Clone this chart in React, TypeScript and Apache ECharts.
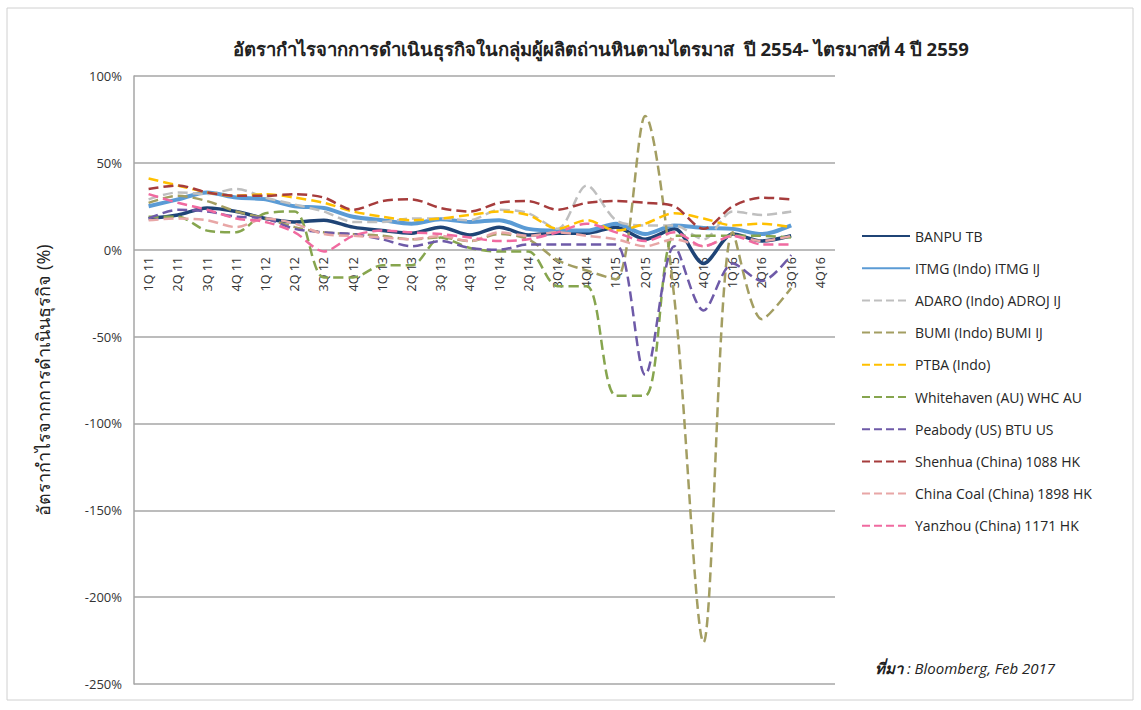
import React, { useEffect, useRef } from "react";
import * as echarts from "echarts";

const categories = ["1Q 11", "2Q 11", "3Q 11", "4Q 11", "1Q 12", "2Q 12", "3Q 12", "4Q 12", "1Q 13", "2Q 13", "3Q 13", "4Q 13", "1Q 14", "2Q 14", "3Q14", "4Q14", "1Q15", "2Q15", "3Q15", "4Q15", "1Q16", "2Q16", "3Q16", "4Q16"];

const banpu = [18, 20, 24, 22, 18, 16, 17, 13, 11, 9.5, 13, 8.5, 13, 8.5, 9.5, 9.5, 13, 6, 12, -8, 9, 5, 8, null];
const itmg = [25, 29, 33, 30, 29, 25, 24, 19, 17, 15, 17.5, 16, 17, 12, 11, 11, 15, 9, 14, 12.5, 12, 9, 14, null];
const adaro = [29, 33, 32, 35, 30, 26, 22, 16, 16, 18, 18, 17, 23, 21, 12, 37, 17, 14, 14, 6, 22, 20, 22, null];
const bumi = [27, 31, 28, 22, 18, 13, 10, 9, 8, 6, 7, 5, 9, 6, -6, -12, -17, 77, -28, -226, 10, -40, -22, null];
const ptba = [41, 37, 33, 31, 32, 30, 27, 22, 19, 17, 18, 20, 22, 20, 12, 17, 11, 15, 21, 18, 14, 15, 13, null];
const whitehaven = [19, 19, 11, 10, 21, 22, -16, -16, -9, -9, 7, 1, -1, -1, -21, -21, -84, -84, 8, 8, 8, 8, 7, null];
const peabody = [18, 23, 22, 19, 18, 12, 10, 9, 6, 2, 5, 1, 0, 3, 3, 3, 3, -72, 2, -35, -8, -18, -3, null];
const shenhua = [35, 37, 33, 31, 31, 32, 30, 23, 28, 29, 24, 22, 27, 28, 23, 27, 28, 27, 25, 12, 25, 30, 29, null];
const chinaCoal = [17, 18, 17, 13, 18, 15, 9, 8, 7, 6, 8, 5, 10, 8, 10, 8, 6, 2, 6, 2, 8, 5, 8, null];
const yanzhou = [32, 27, 23, 18, 16, 10, -1, 8, 11, 10, 9, 7, 5, 6, 10, 15, 10, 5, 10, 2, 8, 3, 3, null];

const seriesDefs = [
  { name: "BANPU TB", data: banpu, color: "#1F4476", width: 3.5, type: "solid" },
  { name: "ITMG (Indo) ITMG IJ", data: itmg, color: "#5B9BD5", width: 4, type: "solid" },
  { name: "ADARO (Indo) ADROJ IJ", data: adaro, color: "#BFBFBF", width: 2.5, type: "dashed" },
  { name: "BUMI (Indo) BUMI IJ", data: bumi, color: "#A39E62", width: 2.5, type: "dashed" },
  { name: "PTBA (Indo)", data: ptba, color: "#FFC000", width: 2.5, type: "dashed" },
  { name: "Whitehaven (AU) WHC AU", data: whitehaven, color: "#86A54E", width: 2.5, type: "dashed" },
  { name: "Peabody (US) BTU US", data: peabody, color: "#6E5AA8", width: 2.5, type: "dashed" },
  { name: "Shenhua (China) 1088 HK", data: shenhua, color: "#A63C3C", width: 2.5, type: "dashed" },
  { name: "China Coal (China) 1898 HK", data: chinaCoal, color: "#E8A6A6", width: 2.5, type: "dashed" },
  { name: "Yanzhou (China) 1171 HK", data: yanzhou, color: "#F06AA0", width: 2.5, type: "dashed" },
];

const FONT = "'Open Sans', 'Noto Sans', 'DejaVu Sans', sans-serif";

export default function App() {
  const ref = useRef<HTMLDivElement>(null);
  useEffect(() => {
    if (!ref.current) return;
    const chart = echarts.init(ref.current, null, { renderer: "svg" });
    chart.setOption({
      animation: false,
      backgroundColor: "#ffffff",
      title: {
        text: "อัตรากำไรจากการดำเนินธุรกิจในกลุ่มผู้ผลิตถ่านหินตามไตรมาส  ปี 2554- ไตรมาสที่ 4 ปี 2559",
        left: 596,
        top: 34,
        textAlign: "center",
        textStyle: { fontSize: 18.5, fontWeight: "bold", color: "#222", fontFamily: FONT },
      },
      grid: { left: 134, right: 306, top: 76, bottom: 26, containLabel: false },
      legend: {
        orient: "vertical",
        left: 856,
        top: 224,
        itemWidth: 48,
        itemHeight: 14,
        itemGap: 18.2,
        itemStyle: { opacity: 0 },
        textStyle: { fontSize: 14, color: "#262626", fontFamily: FONT },
        data: seriesDefs.map((s) => s.name),
      },
      xAxis: {
        type: "category",
        data: categories,
        boundaryGap: true,
        axisLine: { show: false, onZero: false },
        axisTick: { show: false },
        axisLabel: { rotate: 90, fontSize: 12.5, color: "#333", fontFamily: FONT, margin: -427, interval: 0 },
      },
      yAxis: {
        type: "value",
        min: -250,
        max: 100,
        interval: 50,
        name: "อัตรากำไรจากการดำเนินธุรกิจ (%)",
        nameLocation: "middle",
        nameGap: 82,
        nameRotate: 90,
        nameTextStyle: { fontSize: 18, color: "#222", fontFamily: FONT },
        axisLine: { show: true, lineStyle: { color: "#A6A6A6", width: 1.5 } },
        axisTick: { show: false },
        axisLabel: { formatter: "{value}%", fontSize: 13, color: "#333", fontFamily: FONT, margin: 12 },
        splitLine: { lineStyle: { color: "#A6A6A6", width: 1.5 } },
      },
      graphic: [
        {
          type: "rect",
          shape: { x: 7, y: 8, width: 1126, height: 692 },
          style: { fill: "none", stroke: "#D0D0D0", lineWidth: 1 },
          silent: true,
          z: -1,
        },
        {
          type: "text",
          left: 875,
          top: 660,
          style: {
            text: "{b|ที่มา} : Bloomberg, Feb 2017",
            rich: {
              b: { fontWeight: "bold", fontStyle: "italic", fontSize: 15, fontFamily: FONT, fill: "#222" },
            },
            fontStyle: "italic",
            fontSize: 15,
            fontFamily: FONT,
            fill: "#222",
          },
        },
      ],
      series: seriesDefs.map((s) => ({
        name: s.name,
        type: "line",
        data: s.data,
        smooth: 0.3,
        symbol: "none",
        connectNulls: false,
        itemStyle: { color: s.color },
        lineStyle: { color: s.color, width: s.width, type: s.type },
      })),
    });
    return () => chart.dispose();
  }, []);
  return (
    <div
      ref={ref}
      style={{ position: "absolute", left: 0, top: 0, width: 1141, height: 710 }}
    />
  );
}
